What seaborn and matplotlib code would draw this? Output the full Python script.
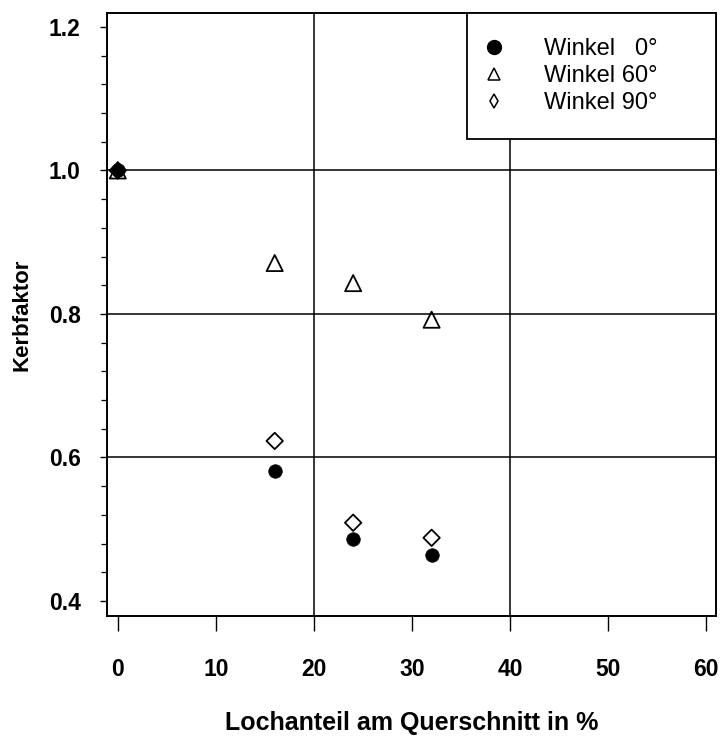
import matplotlib
matplotlib.use('Agg')
import matplotlib.pyplot as plt
import seaborn as sns
import pandas as pd
from matplotlib.lines import Line2D
from matplotlib.ticker import MultipleLocator

# ---- data ----
lochanteil = [0, 16, 24, 32]
kerb_0 = [1.0, 0.581, 0.487, 0.464]
kerb_60 = [1.0, 0.871, 0.843, 0.792]
kerb_90 = [1.0, 0.623, 0.509, 0.488]
series_labels = ['Winkel   0°', 'Winkel 60°', 'Winkel 90°']
x_ticks = [0, 10, 20, 30, 40, 50, 60]
y_ticks = [0.4, 0.6, 0.8, 1.0, 1.2]
x_grid = [20, 40]
y_grid = [0.6, 0.8, 1.0]
x_label = 'Lochanteil am Querschnitt in %'
y_label = 'Kerbfaktor'

sns.set_theme(style='white')
plt.rcParams['font.family'] = ['Liberation Sans', 'DejaVu Sans']

fig = plt.figure(figsize=(7.26, 7.38), dpi=100)
ax = fig.add_axes([107/726, 1-616/738, (716-107)/726, (616-13)/738])

df0 = pd.DataFrame({'x': lochanteil, 'y': kerb_0})
df60 = pd.DataFrame({'x': lochanteil, 'y': kerb_60})
df90 = pd.DataFrame({'x': lochanteil, 'y': kerb_90})

for g in x_grid:
    ax.axvline(g, color='black', lw=1.1, zorder=1)
for g in y_grid:
    ax.axhline(g, color='black', lw=1.1, zorder=1)

sns.scatterplot(data=df0, x='x', y='y', ax=ax, marker='o', s=95,
                color='black', edgecolor='black', linewidth=0.5, zorder=3, clip_on=False)
sns.scatterplot(data=df60, x='x', y='y', ax=ax, marker='^', s=135,
                facecolors='none', edgecolor='black', linewidth=1.3, zorder=4, clip_on=False)
sns.scatterplot(data=df90, x='x', y='y', ax=ax, marker='D', s=70,
                facecolors='none', edgecolor='black', linewidth=1.3, zorder=4, clip_on=False)

ax.set_xlim(-1.1, 61.0)
ax.set_ylim(0.379, 1.2195)
ax.set_xticks(x_ticks)
ax.set_xticklabels([str(t) for t in x_ticks])
ax.set_yticks(y_ticks)
ax.set_yticklabels([f'{t:.1f}' for t in y_ticks])
ax.yaxis.set_minor_locator(MultipleLocator(0.04))

for sp in ax.spines.values():
    sp.set_color('black')
    sp.set_linewidth(1.4)

ax.tick_params(axis='x', which='major', direction='out', length=11, width=1.0,
               pad=19, labelsize=16.5, colors='black', bottom=True)
ax.tick_params(axis='y', which='major', direction='out', length=5, width=1.0,
               pad=14, labelsize=16.5, colors='black', left=True)
ax.tick_params(axis='y', which='minor', direction='out', length=4, width=0.9,
               left=True, colors='black')
for lab in ax.get_xticklabels() + ax.get_yticklabels():
    lab.set_fontweight('bold')

ax.set_xlabel(x_label, fontsize=18, fontweight='bold', color='black', labelpad=22)
ax.set_ylabel(y_label, fontsize=16, fontweight='bold', color='black', labelpad=12)

handles = [
    Line2D([], [], ls='none', marker='o', markersize=10, color='black'),
    Line2D([], [], ls='none', marker='^', markersize=8, markerfacecolor='none',
           markeredgecolor='black', markeredgewidth=1.1),
    Line2D([], [], ls='none', marker='d', markersize=7.5, markerfacecolor='none',
           markeredgecolor='black', markeredgewidth=1.1),
]
leg = ax.legend(handles, series_labels, loc='upper left',
                bbox_to_anchor=(0.591, 0.789, 0.409, 0.211), mode='expand',
                borderaxespad=0, borderpad=1.05, labelspacing=0.22,
                handlelength=0.2, handletextpad=2.0, fontsize=17,
                frameon=True, fancybox=False, edgecolor='black', framealpha=1)
leg.get_frame().set_linewidth(1.3)
for t in leg.get_texts():
    t.set_color('black')

fig.savefig('out.png', dpi=100, facecolor='white')
